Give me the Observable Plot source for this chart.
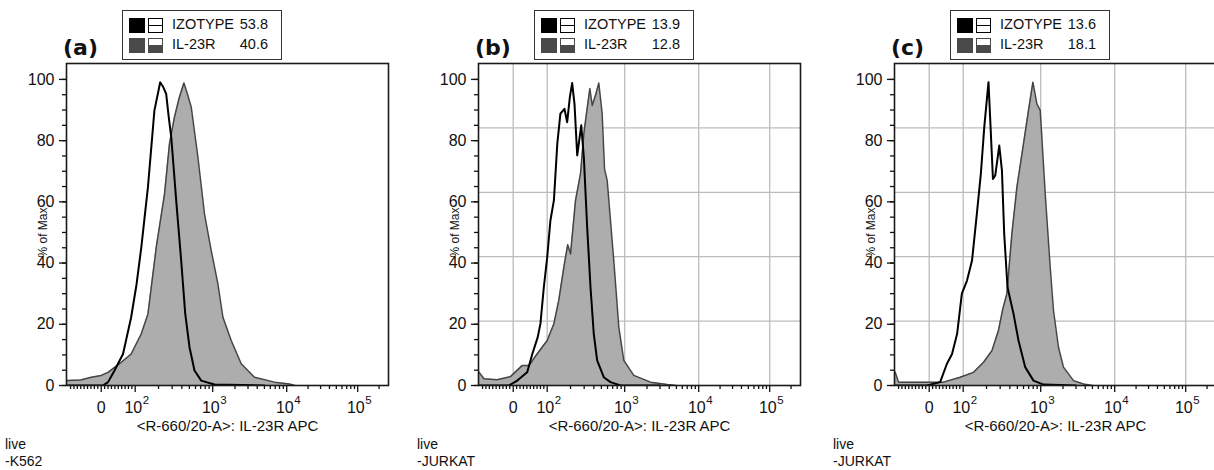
<!DOCTYPE html>
<html><head><meta charset="utf-8">
<script src="https://cdn.jsdelivr.net/npm/d3@7"></script>
<script src="https://cdn.jsdelivr.net/npm/@observablehq/plot@0.6"></script>
<style>
body{margin:0;width:1214px;height:470px;overflow:hidden;background:#fff;font-family:"Liberation Sans",Arial,sans-serif;}
#root{position:relative;width:1214px;height:470px;overflow:hidden;}
.panel{position:absolute;top:0;width:400px;height:470px;}
.plot{position:absolute;left:0;top:0;}
.tag{position:absolute;top:35px;left:63px;font:bold 22px "DejaVu Sans",sans-serif;line-height:26px;color:#111;}
.legend{position:absolute;top:10px;left:122px;width:160px;height:50px;border:1.5px solid #333;box-sizing:border-box;background:#fff;}
.sq{position:absolute;left:6px;width:16px;height:15px;}
.bx{position:absolute;left:25px;width:15px;height:15px;box-sizing:border-box;border:1.5px solid;background:#fff;}
.mid{position:absolute;left:0;right:0;top:5.5px;height:1.5px;}
.half{position:absolute;left:0;right:0;top:5.5px;bottom:0;}
.lt{position:absolute;left:49px;font-size:14.5px;line-height:17px;color:#111;}
.lv{position:absolute;right:13px;font-size:14.5px;line-height:17px;color:#111;}
.cap{position:absolute;top:436px;left:5px;font-size:14px;line-height:17px;color:#111;}
</style></head>
<body><div id="root"></div>
<script>
// ---- data (fluorescence intensity, % of max) ----
const panelTags = ["(a)", "(b)", "(c)"];
const cellLines = ["-K562", "-JURKAT", "-JURKAT"];
const legendNames = ["IZOTYPE", "IL-23R"];
const legendValsA = ["53.8", "40.6"];
const legendValsB = ["13.9", "12.8"];
const legendValsC = ["13.6", "18.1"];
const xTitle = "<R-660/20-A>: IL-23R APC";
const yTitle = "% of Max";
const yTickVals = [0, 20, 40, 60, 80, 100];
const xTickVals = [0, 100, 1000, 10000, 100000];
const xTickBase = ["0", "10", "10", "10", "10"];
const xTickExp = ["", "2", "3", "4", "5"];

const isoA_x = [-100, 5, 20, 39, 64, 88, 104, 120, 146, 177, 195, 210, 230, 251, 270, 292, 338, 392, 442, 502, 582, 711, 1058, 5000];
const isoA_y = [0, 0, 1.1, 4.9, 10.3, 22.3, 33, 45.2, 64.8, 89.9, 95, 99.1, 97.5, 95.3, 88, 81.1, 60.5, 40.8, 23.5, 12.5, 4.9, 1.6, 0.3, 0];
const ilA_x = [-100, -60, -29, 0, 20, 40, 59, 88, 120, 146, 187, 239, 277, 321, 370, 425, 475, 528, 644, 783, 957, 1175, 1374, 1778, 2427, 3672, 6839, 10900, 13000];
const ilA_y = [1.6, 1.8, 2.7, 3.3, 4.3, 6, 7.6, 10.3, 16.9, 23.4, 45.2, 62.6, 79, 87.7, 94, 98.8, 95, 91, 74.6, 56.1, 44.1, 33.2, 22.3, 14.7, 7.1, 2.7, 1.1, 0.5, 0];

const isoB_x = [-100, -13, 12, 41, 56, 72, 80, 90, 100, 110, 122, 135, 148, 167, 181, 196, 210, 225, 244, 275, 297, 328, 362, 399, 441, 537, 656, 883, 3000];
const isoB_y = [0, 0, 1.6, 4.3, 10.3, 15.8, 20.2, 32.1, 41.9, 53.9, 60.5, 79, 88.8, 90.4, 86, 94.2, 98.8, 92, 75.2, 85, 74.6, 51.7, 32.1, 16.9, 8.2, 2.7, 1.1, 0, 0];
const ilB_x = [-100, -86, -47, -8, 26, 46, 70, 100, 122, 141, 164, 184, 200, 232, 269, 297, 321, 355, 381, 420, 463, 512, 549, 594, 723, 839, 973, 1327, 2234, 3753, 5000];
const ilB_y = [4.3, 2.2, 1.9, 2.9, 6.5, 6.5, 10.3, 14.7, 20.2, 27.8, 38.7, 46, 43, 60.5, 69.2, 82.2, 88.8, 97, 91.5, 94.8, 98.8, 88.8, 70.8, 67, 40.8, 19.1, 8.2, 3.3, 1.1, 0.3, 0];

const isoC_x = [-100, -7, 32, 52, 67, 82, 96, 112, 130, 150, 169, 187, 212, 225, 242, 259, 292, 316, 338, 373, 446, 517, 631, 807, 1091, 3000];
const isoC_y = [0, 0, 1.1, 7.1, 10.3, 16.9, 30, 34.3, 40.8, 56.1, 69.2, 84.4, 99.1, 85, 67.5, 68.6, 78.4, 70.3, 49.6, 32.1, 23.4, 14.7, 6, 1.6, 0.3, 0];
const ilC_x = [-100, -90, -7, 42, 91, 136, 183, 235, 285, 325, 366, 425, 493, 600, 696, 793, 893, 986, 1151, 1343, 1489, 1738, 2031, 2775, 3787, 5000];
const ilC_y = [4.3, 1.1, 1.1, 1.1, 2.7, 4.3, 7.6, 11.4, 18, 25.1, 30, 49.6, 64.8, 79, 89.9, 99.1, 92, 89.9, 62.6, 38.7, 24.5, 12.5, 6, 1.6, 0.5, 0];

// ---- biexponential display transform (display units) ----
function biex(v) {
  const s = Math.sign(v), a = Math.abs(v);
  if (a <= 100) return s * 34 * Math.asinh(a / 575) / Math.asinh(100 / 575);
  const L = Math.log10(a);
  const anch = [[2, 34], [3, 111.5], [4, 185.5], [5, 256.5]];
  let p;
  if (L >= 5) p = 256.5 + (L - 5) * 71;
  else {
    const i = Math.floor(L) - 2;
    const [l0, p0] = anch[i], [l1, p1] = anch[i + 1];
    p = p0 + (L - l0) * (p1 - p0);
  }
  return s * p;
}

const XD = [-34.7, 287.3];
const YTOP = 105.2;
const majorPos = xTickVals.map(biex);
const minorVals = [];
for (let e = 1; e <= 5; e++) for (let k = 1; k <= 9; k++) {
  const v = k * Math.pow(10, e);
  if (k === 1 && e >= 2) continue;
  minorVals.push(v);
  if (e === 1) minorVals.push(-v);
}
const minorPos = minorVals.map(biex).filter(p => p > XD[0] && p < XD[1]);
const gridYVals = [1, 2, 3, 4].map(k => YTOP * k / 5);
const xLab = xTickVals.map((v, i) => ({x: biex(v), y: 0, base: xTickBase[i], exp: xTickExp[i]}));
const xLabPow = xLab.filter(d => d.exp !== "");
const xLabZero = xLab.filter(d => d.exp === "");

const panels = [
  {tag: panelTags[0], cap: cellLines[0], vals: legendValsA, isoX: isoA_x, isoY: isoA_y, ilX: ilA_x, ilY: ilA_y, grid: false, left: 0},
  {tag: panelTags[1], cap: cellLines[1], vals: legendValsB, isoX: isoB_x, isoY: isoB_y, ilX: ilB_x, ilY: ilB_y, grid: true, left: 412},
  {tag: panelTags[2], cap: cellLines[2], vals: legendValsC, isoX: isoC_x, isoY: isoC_y, ilX: ilC_x, ilY: ilC_y, grid: true, left: 828}
];

const root = document.getElementById("root");
const markerColors = ["#000", "#4a4a4a"];

for (const p of panels) {
  const iso = p.isoX.map((x, i) => ({x: biex(x), y: p.isoY[i]}));
  const il = p.ilX.map((x, i) => ({x: biex(x), y: p.ilY[i]}));
  const marks = [];
  if (p.grid) {
    marks.push(Plot.gridX(majorPos, {stroke: "#bcbcbc", strokeOpacity: 1, strokeWidth: 1.3}));
    marks.push(Plot.gridY(gridYVals, {stroke: "#bcbcbc", strokeOpacity: 1, strokeWidth: 1.3}));
  }
  marks.push(
    Plot.areaY(il, {x: "x", y: "y", fill: "#adadad", clip: true}),
    Plot.lineY(il, {x: "x", y: "y", stroke: "#454545", strokeWidth: 1.5, clip: true}),
    Plot.lineY(iso, {x: "x", y: "y", stroke: "#000", strokeWidth: 2, clip: true}),
    Plot.axisY({ticks: d3.range(0, 105, 5), tickSize: 4, tickFormat: () => "", label: null, strokeWidth: 1.3}),
    Plot.axisY({ticks: yTickVals, tickSize: 7, tickFormat: () => "", label: null, strokeWidth: 1.3}),
    Plot.axisX({ticks: minorPos, tickSize: 4, tickFormat: () => "", label: null, strokeWidth: 1.3}),
    Plot.axisX({ticks: majorPos, tickSize: 7, tickFormat: () => "", label: null, strokeWidth: 1.3}),
    Plot.frame({stroke: "#1a1a1a", strokeWidth: 1.6}),
    // tick labels
    Plot.text(yTickVals, {y: d => d, frameAnchor: "left", dx: -12, textAnchor: "end", lineAnchor: "middle", fontSize: 16, fill: "#111"}),
    Plot.text(xLabZero, {x: "x", y: "y", text: "base", textAnchor: "middle", lineAnchor: "top", dy: 16, fontSize: 16, fill: "#111"}),
    Plot.text(xLabPow, {x: "x", y: "y", text: "base", textAnchor: "end", lineAnchor: "top", dx: 7, dy: 16, fontSize: 16, fill: "#111"}),
    Plot.text(xLabPow, {x: "x", y: "y", text: "exp", textAnchor: "start", lineAnchor: "top", dx: 7.5, dy: 10, fontSize: 11.5, fill: "#111"}),
    // titles
    Plot.text([yTitle], {frameAnchor: "left", rotate: -90, dx: -23, dy: 8, textAnchor: "middle", fontSize: 12, fill: "#111"}),
    Plot.text([xTitle], {frameAnchor: "bottom", dy: 41, textAnchor: "middle", lineAnchor: "middle", fontSize: 15, fill: "#111"})
  );
  const svg = Plot.plot({
    width: 400, height: 440,
    marginLeft: 66, marginRight: 12, marginTop: 63, marginBottom: 55,
    x: {type: "linear", domain: XD},
    y: {domain: [0, YTOP]},
    style: {fontFamily: "'Liberation Sans', Arial, sans-serif", fontSize: "15px", color: "#111", background: "transparent"},
    marks
  });
  const div = document.createElement("div");
  div.className = "panel";
  div.style.left = p.left + "px";
  svg.classList.add("plot");
  div.appendChild(svg);

  const tag = document.createElement("div");
  tag.className = "tag"; tag.textContent = p.tag;
  div.appendChild(tag);

  const lg = document.createElement("div");
  lg.className = "legend";
  legendNames.forEach((name, i) => {
    const top = 5 + i * 20;
    const col = markerColors[i];
    const sq = document.createElement("div");
    sq.className = "sq"; sq.style.top = (top + 2) + "px"; sq.style.background = col;
    const bx = document.createElement("div");
    bx.className = "bx"; bx.style.top = (top + 2) + "px"; bx.style.borderColor = col;
    const inner = document.createElement("div");
    inner.className = i === 0 ? "mid" : "half";
    inner.style.background = col;
    bx.appendChild(inner);
    const lt = document.createElement("div");
    lt.className = "lt"; lt.style.top = top + "px"; lt.textContent = name;
    const lv = document.createElement("div");
    lv.className = "lv"; lv.style.top = top + "px"; lv.textContent = p.vals[i];
    lg.append(sq, bx, lt, lv);
  });
  div.appendChild(lg);

  const cap = document.createElement("div");
  cap.className = "cap";
  cap.innerHTML = "live<br>" + p.cap;
  div.appendChild(cap);
  root.appendChild(div);
}
</script>
</body></html>
